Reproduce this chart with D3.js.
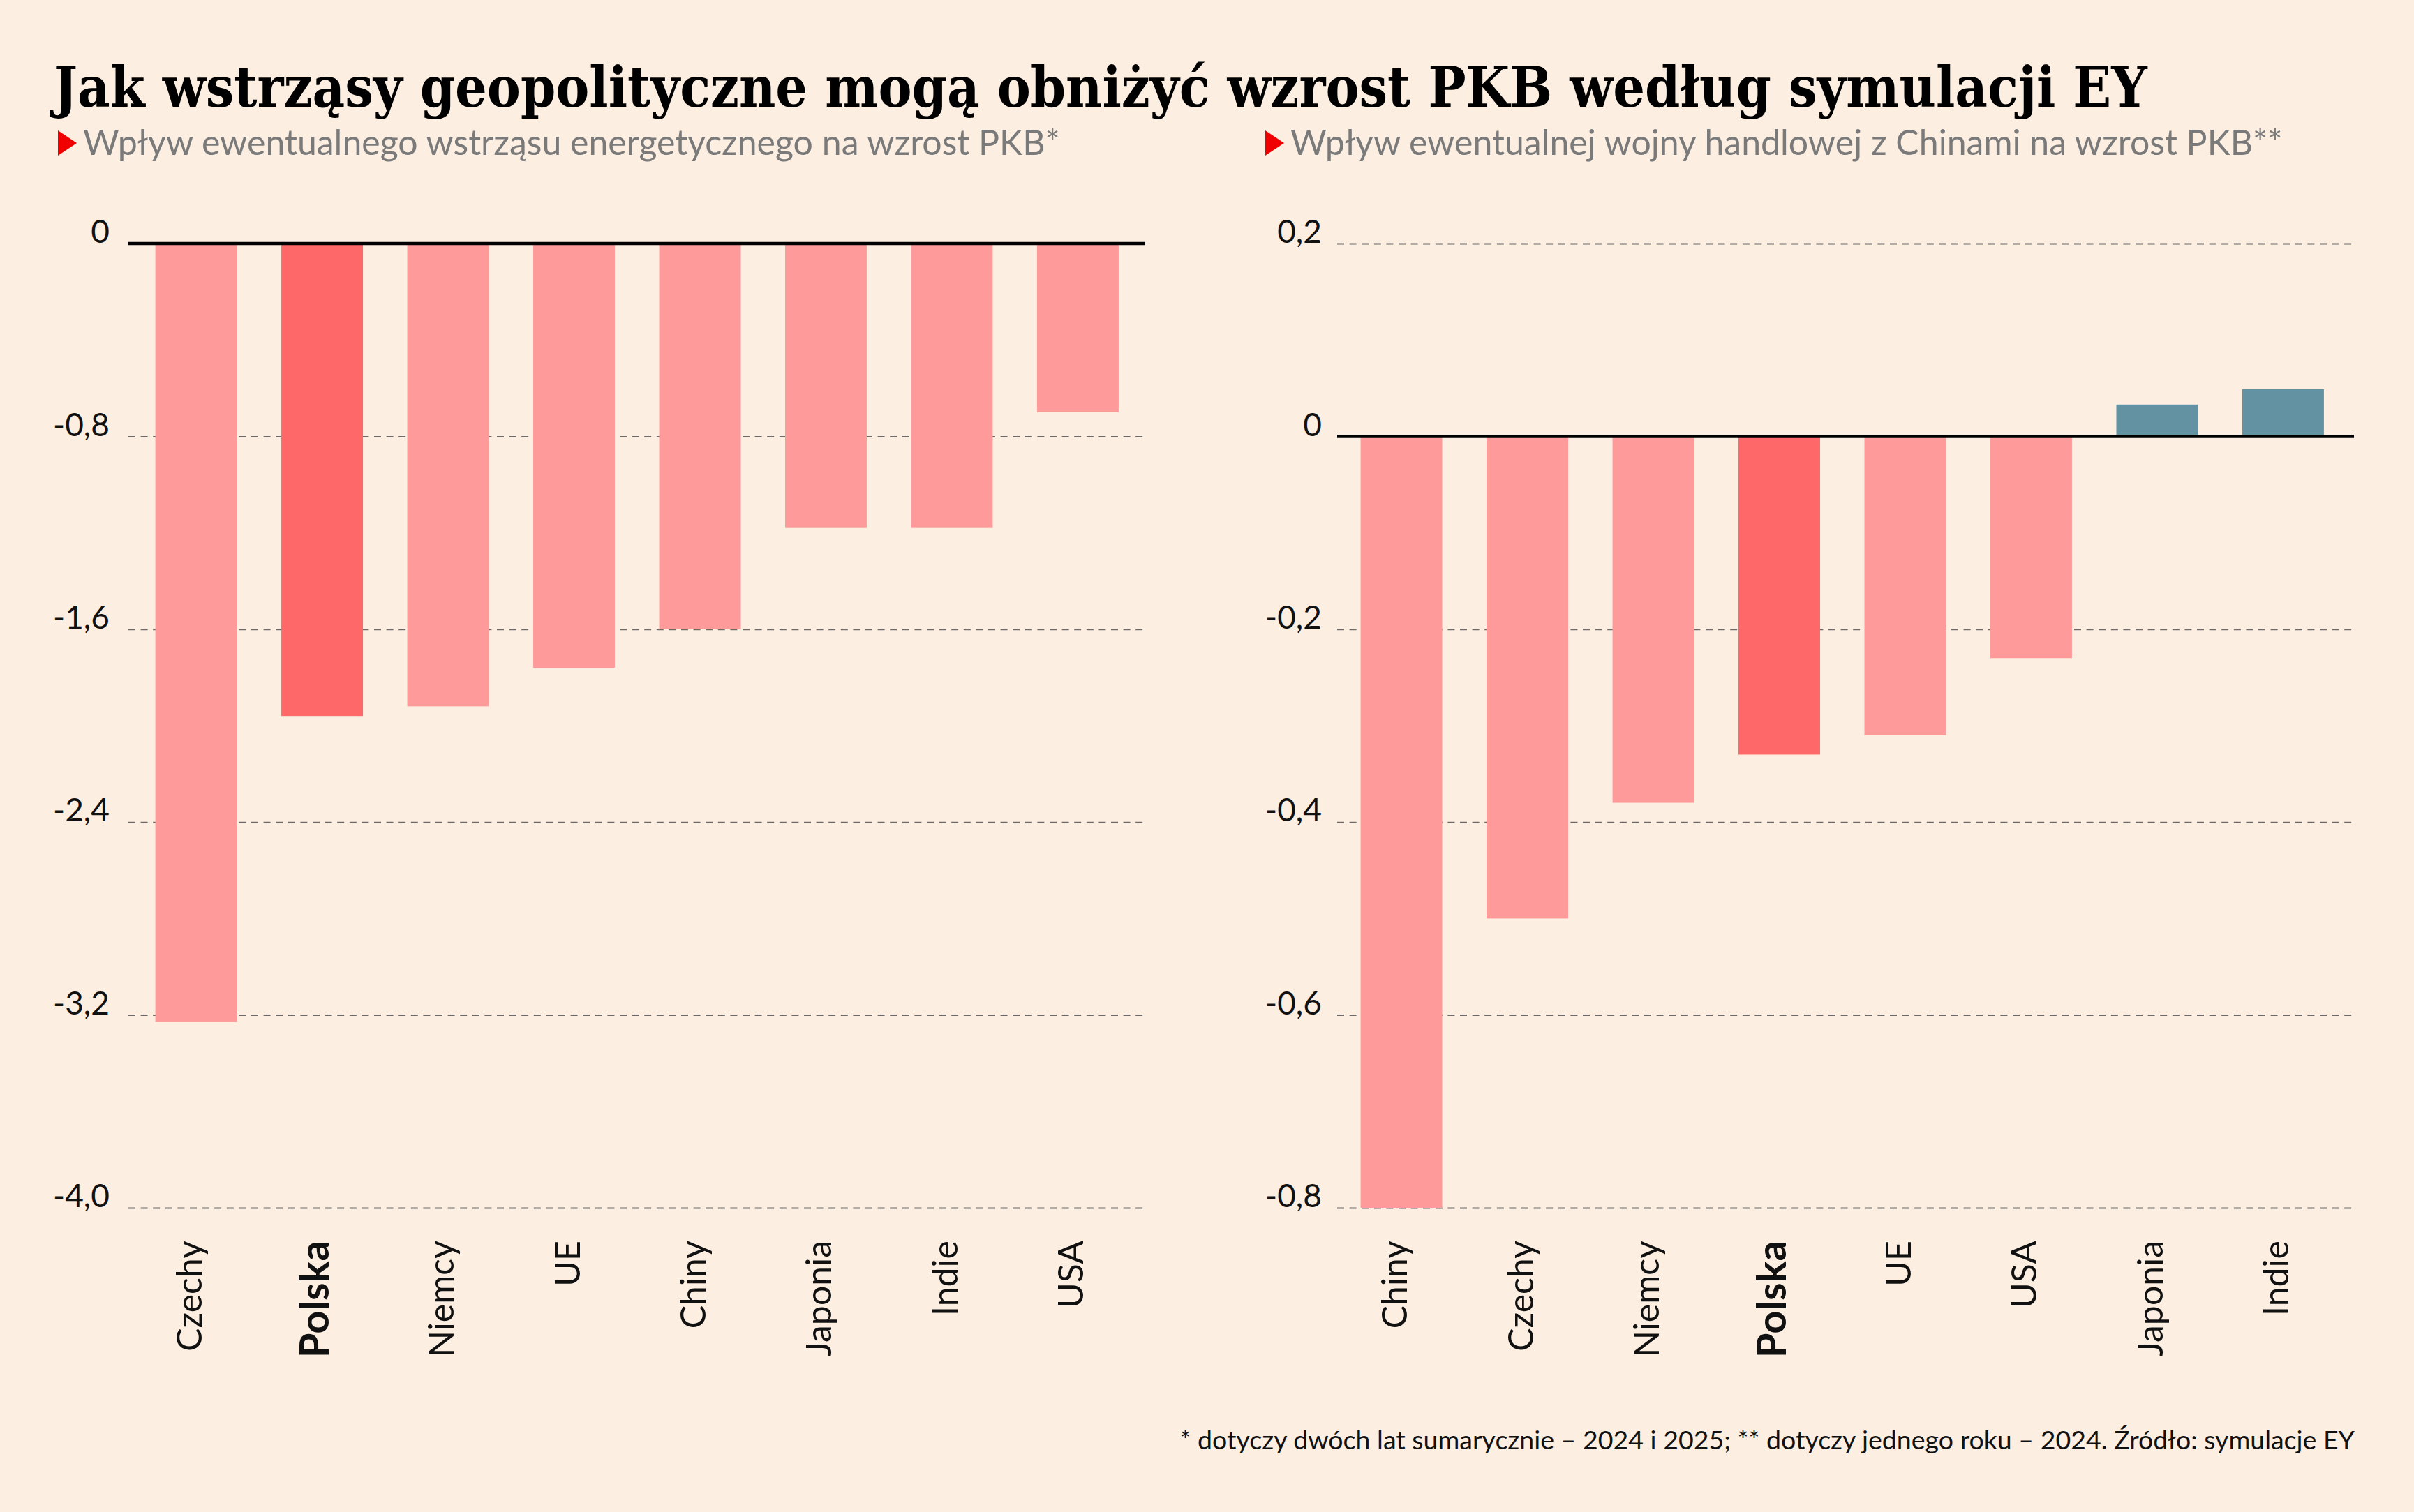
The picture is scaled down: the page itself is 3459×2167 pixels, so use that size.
<!DOCTYPE html>
<html>
<head>
<meta charset="utf-8">
<script src="https://cdn.jsdelivr.net/npm/d3@7"></script>
<style>
  html, body { margin: 0; padding: 0; background: #FCEFE2; }
  svg { display: block; }
</style>
</head>
<body>
<svg id="chart" width="3459" height="2167"></svg>
<script>
// ---- data ----
const titleText = "Jak wstrząsy geopolityczne mogą obniżyć wzrost PKB według symulacji EY";
const leftSubtitle = "Wpływ ewentualnego wstrząsu energetycznego na wzrost PKB*";
const rightSubtitle = "Wpływ ewentualnej wojny handlowej z Chinami na wzrost PKB**";
const footnoteText = "* dotyczy dwóch lat sumarycznie – 2024 i 2025; ** dotyczy jednego roku – 2024. Źródło: symulacje EY";

const leftCategories = ["Czechy", "Polska", "Niemcy", "UE", "Chiny", "Japonia", "Indie", "USA"];
const leftValues = [-3.23, -1.96, -1.92, -1.76, -1.6, -1.18, -1.18, -0.7];
const leftTicks = [0, -0.8, -1.6, -2.4, -3.2, -4.0];
const leftDomain = [-4.0, 0];

const rightCategories = ["Chiny", "Czechy", "Niemcy", "Polska", "UE", "USA", "Japonia", "Indie"];
const rightValues = [-0.8, -0.5, -0.38, -0.33, -0.31, -0.23, 0.033, 0.049];
const rightTicks = [0.2, 0, -0.2, -0.4, -0.6, -0.8];
const rightDomain = [-0.8, 0.2];

const highlight = "Polska";

// ---- styles ----
const C = {
  bg: "#FCEFE2",
  bar: "#FF9A9A",
  barHi: "#FF6868",
  barPos: "#6393A3",
  text: "#111111",
  sub: "#7a7a7a",
  grid: "#6f6a66",
  tri: "#F00000"
};
const SANS = "Lato, 'Noto Sans', sans-serif";

const svg = d3.select("#chart");
svg.append("rect").attr("width", 3459).attr("height", 2167).attr("fill", C.bg);

// Title
const title = svg.append("text")
  .attr("x", 77).attr("y", 153)
  .attr("font-family", "'DejaVu Serif Condensed', 'DejaVu Serif', 'Liberation Serif', serif")
  .attr("font-stretch", "condensed")
  .attr("font-weight", 700)
  .attr("font-size", 80)
  .attr("fill", "#000")
  .text(titleText);
(function fitTitle() {
  const w = title.node().getComputedTextLength();
  const target = 3000;
  title.attr("font-size", 80 * target / w);
})();

// Subtitles
function subtitle(x, text) {
  svg.append("path")
    .attr("d", `M${x},187 L${x + 27},205 L${x},223 Z`)
    .attr("fill", C.tri);
  svg.append("text")
    .attr("x", x + 36).attr("y", 222)
    .attr("font-family", SANS)
    .attr("font-size", 50)
    .attr("fill", C.sub)
    .text(text);
}
subtitle(83, leftSubtitle);
subtitle(1813, rightSubtitle);

const fmt = v => v === 0 ? "0" : v.toFixed(1).replace(".", ",");

function panel(cfg) {
  const g = svg.append("g");
  const x = d3.scaleBand()
    .domain(cfg.categories)
    .range(cfg.bandRange)
    .paddingInner(0.352)
    .paddingOuter(0.2);
  const y = d3.scaleLinear().domain(cfg.domain).range([1731, 349]);

  // grid + tick labels via axis
  const axis = d3.axisLeft(y)
    .tickValues(cfg.ticks)
    .tickFormat(fmt)
    .tickSize(-(cfg.lineX[1] - cfg.lineX[0]))
    .tickPadding(cfg.lineX[0] - cfg.labelRight);
  const ag = g.append("g")
    .attr("transform", `translate(${cfg.lineX[0]},0)`)
    .call(axis);
  ag.select(".domain").remove();
  ag.selectAll(".tick line")
    .attr("stroke", C.grid)
    .attr("stroke-width", 2)
    .attr("stroke-dasharray", "10,7.6")
    .attr("opacity", d => d === 0 ? 0 : 1);
  ag.selectAll(".tick text")
    .attr("font-family", SANS)
    .attr("font-size", 46)
    .attr("fill", C.text)
    .attr("dy", "-0.03em");

  // bars
  const data = cfg.categories.map((c, i) => ({ c, v: cfg.values[i] }));
  g.selectAll("rect.bar").data(data).enter().append("rect")
    .attr("class", "bar")
    .attr("x", d => x(d.c))
    .attr("width", x.bandwidth())
    .attr("y", d => y(Math.max(0, d.v)))
    .attr("height", d => Math.abs(y(d.v) - y(0)))
    .attr("fill", d => d.v > 0 ? C.barPos : (d.c === highlight ? C.barHi : C.bar));

  // zero line
  g.append("line")
    .attr("x1", cfg.lineX[0]).attr("x2", cfg.lineX[1])
    .attr("y1", y(0)).attr("y2", y(0))
    .attr("stroke", "#000").attr("stroke-width", 4.5);

  // category labels (rotated)
  g.selectAll("text.cat").data(data).enter().append("text")
    .attr("class", "cat")
    .attr("transform", d => `translate(${x(d.c) + x.bandwidth() / 2},1778) rotate(-90)`)
    .attr("text-anchor", "end")
    .attr("dy", "0.16em")
    .attr("font-family", SANS)
    .attr("font-size", d => d.c === highlight ? 58 : 50)
    .attr("font-weight", d => d.c === highlight ? 700 : 400)
    .attr("fill", C.text)
    .text(d => d.c);
}

panel({
  categories: leftCategories, values: leftValues, ticks: leftTicks, domain: leftDomain,
  bandRange: [186.5, 1639], lineX: [184, 1641], labelRight: 157
});
panel({
  categories: rightCategories, values: rightValues, ticks: rightTicks, domain: rightDomain,
  bandRange: [1913.5, 3366], lineX: [1916, 3373], labelRight: 1894
});

// footnote
svg.append("text")
  .attr("x", 3374).attr("y", 2077)
  .attr("text-anchor", "end")
  .attr("font-family", SANS)
  .attr("font-size", 37.5)
  .attr("fill", C.text)
  .text(footnoteText);
</script>
</body>
</html>
